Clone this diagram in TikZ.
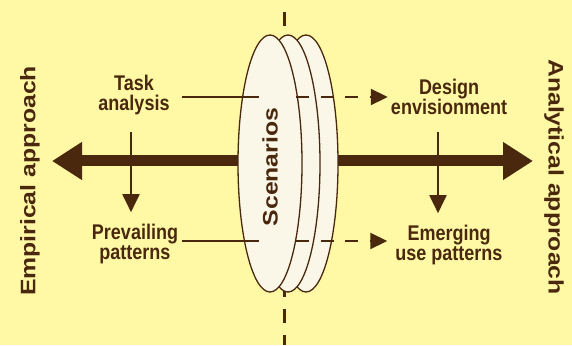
\documentclass[tikz,border=0pt]{standalone}
\usepackage{fontspec}
\setmainfont{Liberation Sans}
\usepackage{tikz}
\usetikzlibrary{arrows.meta, shapes.geometric}

\definecolor{paper}{RGB}{255,249,165}
\definecolor{umber}{RGB}{74,40,14}
\definecolor{disccream}{RGB}{250,247,232}
\setlength{\lineskiplimit}{-20pt}

\tikzset{
  every node/.append style={text=umber},
  lbl/.style={yscale=1.18, align=center, inner xsep=3pt, inner ysep=2pt,
    font=\fontsize{18}{17.5}\selectfont\bfseries},
  sidelbl/.style={yscale=1.18, inner sep=0pt, font=\fontsize{21}{24}\selectfont\bfseries},
  disc/.style={ellipse, draw=umber, line width=1.3pt, fill=disccream,
    minimum width=64pt, minimum height=257pt, inner sep=0pt, outer sep=0pt},
  bigarrow/.style={umber, line width=11pt, -{Triangle[length=30pt, width=36pt]}},
  flowarrow/.style={umber, line width=2pt, -{Triangle[length=18pt, width=17pt]}},
  link/.style={umber, line width=2pt},
  dasharrow/.style={umber, line width=2pt, dash pattern=on 13pt off 11.5pt,
    -{Triangle[length=17pt, width=16pt]}},
  axisline/.style={umber, line width=3pt, dash pattern=on 14pt off 12pt}
}

\begin{document}
\begin{tikzpicture}[x=1pt, y=1pt]
  \fill[paper] (0,0) rectangle (572,345);
  \useasboundingbox (0,0) rectangle (572,345);

  % axis through the scenarios
  \coordinate (axtop) at (284,345);
  \coordinate (axmid) at (284,182);
  \coordinate (axbot) at (284,0);
  \draw[axisline, dash phase=14pt] (axtop) -- (axmid);
  \draw[axisline, dash phase=4pt] (axbot) -- (axmid);

  % stacked scenarios
  \node[disc] (s3) at (306,181.5) {};
  \node[disc] (s2) at (288,181.5) {};
  \node[disc] (s1) at (270,181.5) {};
  \node[sidelbl, rotate=90] (scen) at (270,178) {Scenarios};

  % the two approaches
  \node[sidelbl, rotate=90] (emp) at (30,164) {Empirical approach};
  \node[sidelbl, rotate=-90] (ana) at (554,168) {Analytical approach};
  \coordinate (empTip) at (52,184);
  \coordinate (anaTip) at (533,184);
  \draw[bigarrow] (s1.west |- empTip) -- (empTip);
  \draw[bigarrow] (s3.east |- anaTip) -- (anaTip);

  \node[lbl] (task) at (134,250) {Task\\analysis};
  \node[lbl] (prev) at (135,101) {Prevailing\\patterns};
  \node[lbl] (design) at (449,248) {Design\\envisionment};
  \node[lbl] (emerg) at (449,100) {Emerging\\use patterns};

  % links through the scenarios
  \coordinate (taskOut) at (182,248);
  \coordinate (taskEnd) at (259,248);
  \coordinate (prevOut) at (182,104);
  \coordinate (prevEnd) at (259,104);
  \coordinate (designIn) at (296,248);
  \coordinate (emergIn) at (296,104);
  \draw[link] (taskOut) -- (taskEnd);
  \draw[link] (prevOut) -- (prevEnd);
  \draw[dasharrow] (designIn) -- (design.west |- designIn);
  \draw[dasharrow] (emergIn) -- ([xshift=-5pt]emerg.west |- emergIn);

  \draw[flowarrow, shorten <=14pt, shorten >=9pt]
    ([xshift=-3pt]task.south) -- ([xshift=-3pt]task.south |- prev.north);
  \draw[flowarrow, shorten <=14pt, shorten >=9pt]
    ([xshift=-11pt]design.south) -- ([xshift=-11pt]design.south |- emerg.north);
\end{tikzpicture}
\end{document}
